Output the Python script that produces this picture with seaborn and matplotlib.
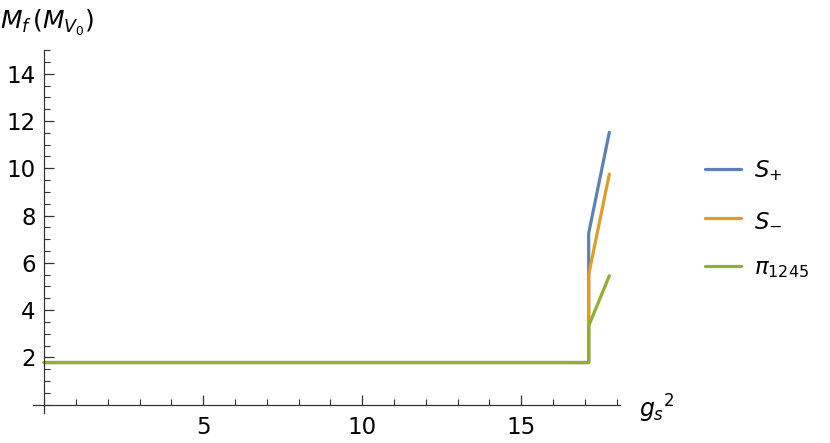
import numpy as np
import pandas as pd
import matplotlib
matplotlib.use("Agg")
import matplotlib.pyplot as plt
import seaborn as sns
from matplotlib.ticker import MultipleLocator

# data
x_vals = [0.0, 17.12, 17.12, 17.77]
s_plus = [1.78, 1.78, 7.25, 11.52]
s_minus = [1.78, 1.78, 5.5, 9.75]
pi_1245 = [1.78, 1.78, 3.33, 5.45]
labels = ["$S_{+}$", "$S_{-}$", r"$\pi_{1245}$"]
colors = ["#5E81B5", "#E19C24", "#8FB032"]

rows = []
for lab, ys in zip(labels, [s_plus, s_minus, pi_1245]):
    for i, (x, y) in enumerate(zip(x_vals, ys)):
        rows.append({"x": x, "y": y, "series": lab, "order": i})
df = pd.DataFrame(rows)

sns.set_style("ticks")
plt.rcParams["font.family"] = ["DejaVu Sans"]
plt.rcParams["mathtext.fontset"] = "dejavusans"
plt.rcParams["text.color"] = "black"

fig = plt.figure(figsize=(8.3, 4.43), dpi=100)
ax = fig.add_axes([0.0398, 0.068, 0.707, 0.819])

sns.lineplot(data=df, x="x", y="y", hue="series", palette=colors,
             hue_order=labels, sort=False, estimator=None, units="series",
             linewidth=2.3, ax=ax)

ax.set_xlim(-0.35, 18.1)
ax.set_ylim(-0.35, 15)
ax.spines["left"].set_position(("data", 0))
ax.spines["bottom"].set_position(("data", 0))
ax.spines["top"].set_visible(False)
ax.spines["right"].set_visible(False)
for s in ["left", "bottom"]:
    ax.spines[s].set_linewidth(0.9)
    ax.spines[s].set_color("#333333")

ax.xaxis.set_minor_locator(MultipleLocator(1))
ax.yaxis.set_minor_locator(MultipleLocator(0.5))
ax.set_xticks([5, 10, 15])
ax.set_yticks([2, 4, 6, 8, 10, 12, 14])
ax.tick_params(which="major", direction="in", length=7, width=0.9,
               labelsize=16.5, color="#333333", labelcolor="black", pad=6)
ax.tick_params(which="minor", direction="in", length=4, width=0.8,
               color="#333333")
ax.tick_params(axis="x", pad=8)

ax.set_xlabel("")
ax.set_ylabel("")
fig.text(0.0, 0.948, r"$M_{f}\,(M_{V_0})$", fontsize=18, va="center", ha="left")
fig.text(0.77, 0.076, r"$g_s{}^2$", fontsize=17, va="center", ha="left")

ax.legend(loc="center left", bbox_to_anchor=(0.849, 0.5056),
          bbox_transform=fig.transFigure, frameon=False, borderpad=0,
          borderaxespad=0, fontsize=16.5, handlelength=1.6,
          handletextpad=0.55, labelspacing=1.1, title=None)

fig.savefig("out.png", dpi=100)
